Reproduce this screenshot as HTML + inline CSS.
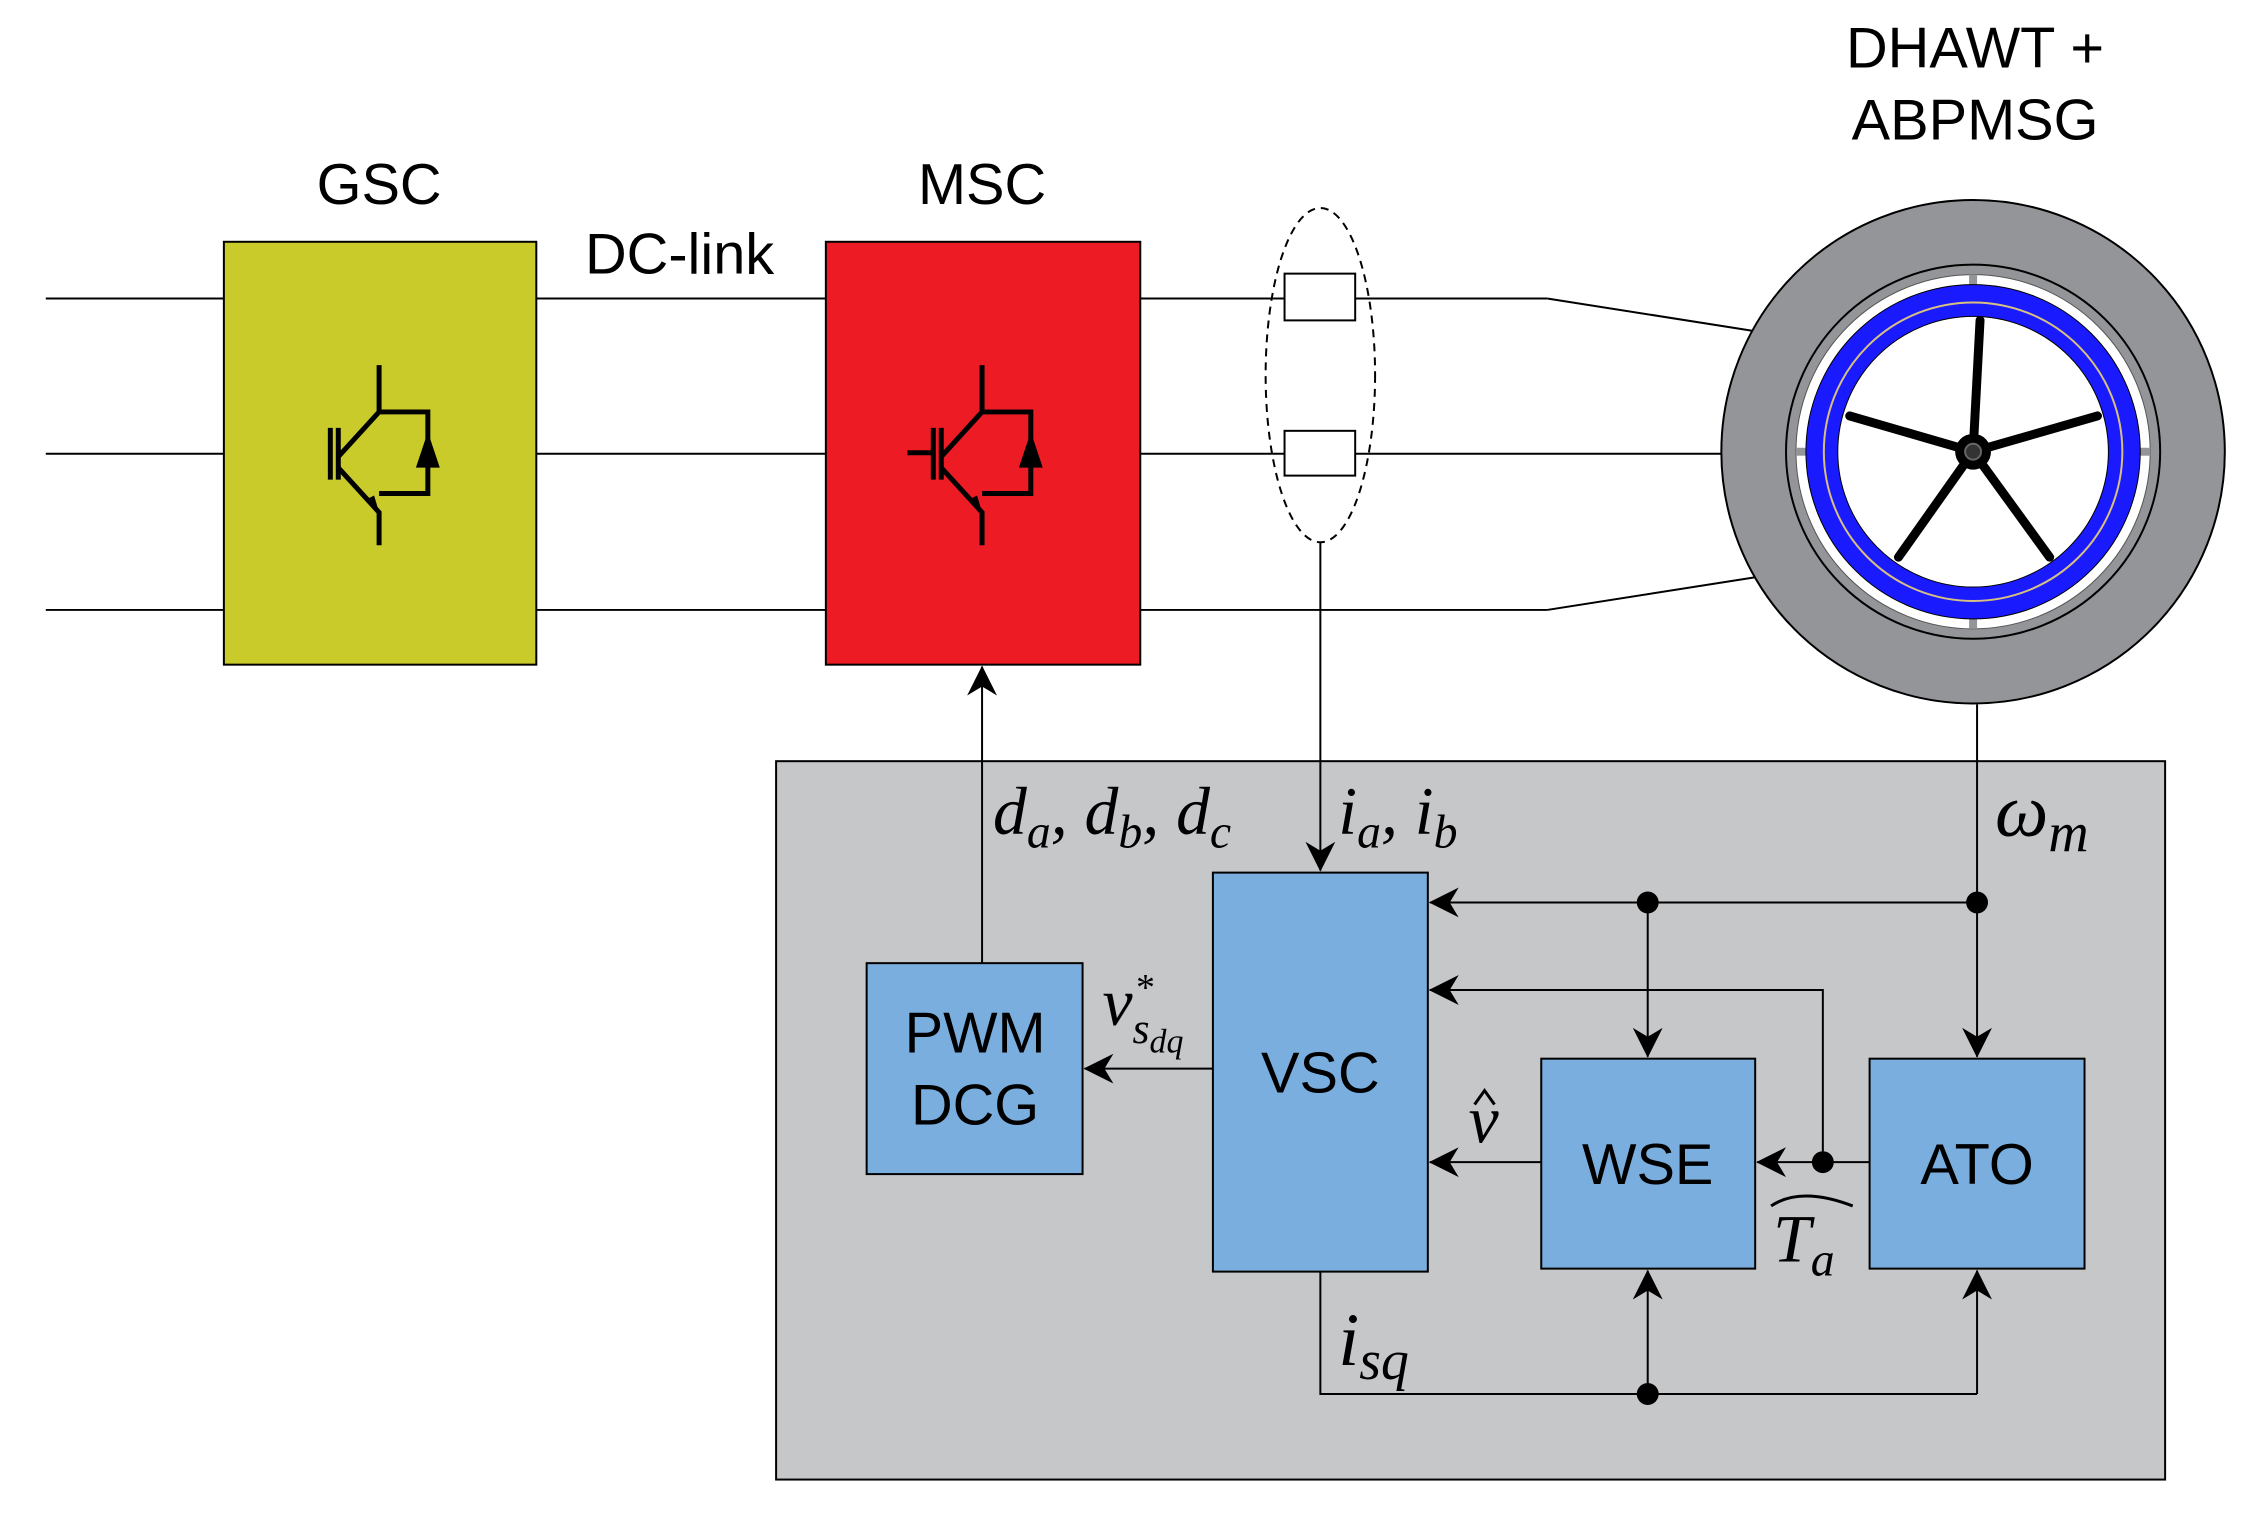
<!DOCTYPE html>
<html><head><meta charset="utf-8"><style>
html,body{margin:0;padding:0;background:#fff;}
svg{display:block;}
.l{font-family:"Liberation Sans",sans-serif;font-size:58px;fill:#000;}
.m{font-family:"Liberation Serif",serif;font-style:italic;font-size:68px;fill:#000;}
.s{font-size:48px;}
</style></head><body>
<svg width="2260" height="1528" viewBox="0 0 2260 1528" xmlns="http://www.w3.org/2000/svg">
<defs>
<marker id="a" viewBox="0 0 30 30" refX="29" refY="15" markerWidth="30" markerHeight="30" markerUnits="userSpaceOnUse" orient="auto"><path d="M0,0 L30,15 L0,30 L9,15 Z" fill="#000"/></marker>
</defs>
<rect width="2260" height="1528" fill="#fff"/>
<g transform="scale(0.995)">
<g stroke="#000" stroke-width="2" fill="none">
<line x1="46" y1="300" x2="1555" y2="300"/>
<line x1="46" y1="456" x2="1734" y2="456"/>
<line x1="46" y1="613" x2="1555" y2="613"/>
<line x1="1555" y1="300" x2="1765" y2="333"/>
<line x1="1555" y1="613" x2="1765" y2="580"/>
</g>
<rect x="225" y="243" width="314" height="425" fill="#c9cb2b" stroke="#000" stroke-width="2"/>
<rect x="830" y="243" width="316" height="425" fill="#ed1c24" stroke="#000" stroke-width="2"/>
<text class="l" x="381" y="205" text-anchor="middle">GSC</text>
<text class="l" x="987" y="205" text-anchor="middle">MSC</text>
<text class="l" x="683" y="275" text-anchor="middle">DC-link</text>
<g stroke="#000" stroke-width="5" fill="none">
<path d="M381,367 V414 L340,459 M340,470 L381,515 V548 M381,414 H430 V496 H381"/>
<line x1="332" y1="430" x2="332" y2="482"/>
<line x1="340" y1="430" x2="340" y2="482"/>
<path d="M987,367 V414 L946,459 M946,470 L987,515 V548 M987,414 H1036 V496 H987"/>
<line x1="938" y1="430" x2="938" y2="482"/>
<line x1="946" y1="430" x2="946" y2="482"/>
<line x1="912" y1="455" x2="938" y2="455"/>
</g>
<path d="M430,434 L418,470 L442,470 Z" fill="#000"/>
<path d="M1036,434 L1024,470 L1048,470 Z" fill="#000"/>
<path d="M381,515 L368,502 L376,498 Z" fill="#000"/>
<path d="M987,515 L974,502 L982,498 Z" fill="#000"/>
<ellipse cx="1327" cy="377" rx="55" ry="168" fill="none" stroke="#000" stroke-width="2" stroke-dasharray="8,6"/>
<rect x="1291" y="275" width="71" height="47" fill="#fff" stroke="#000" stroke-width="2"/>
<rect x="1291" y="433" width="71" height="45" fill="#fff" stroke="#000" stroke-width="2"/>
<circle cx="1983" cy="454" r="253" fill="#939598" stroke="#000" stroke-width="2"/>
<circle cx="1983" cy="454" r="188" fill="#939598" stroke="#000" stroke-width="2"/>
<circle cx="1983" cy="454" r="178" fill="#fff" stroke="#555" stroke-width="1"/>
<g stroke="#939598" stroke-width="8"><line x1="1983" y1="276" x2="1983" y2="290"/><line x1="1983" y1="618" x2="1983" y2="632"/><line x1="1805" y1="454" x2="1819" y2="454"/><line x1="2147" y1="454" x2="2161" y2="454"/></g>
<circle cx="1983" cy="454" r="168" fill="#1a1aff" stroke="#000" stroke-width="1"/>
<circle cx="1983" cy="454" r="150" fill="none" stroke="#d8c080" stroke-width="2"/>
<circle cx="1983" cy="454" r="136" fill="#fff" stroke="#000" stroke-width="1"/>
<g stroke="#000" stroke-width="9" stroke-linecap="round">
<line x1="1983" y1="454" x2="1990" y2="322"/>
<line x1="1983" y1="454" x2="1859" y2="418"/>
<line x1="1983" y1="454" x2="2108" y2="418"/>
<line x1="1983" y1="454" x2="1908" y2="560"/>
<line x1="1983" y1="454" x2="2060" y2="560"/>
</g>
<circle cx="1983" cy="454" r="18" fill="#000"/>
<circle cx="1983" cy="454" r="8" fill="#333" stroke="#666" stroke-width="2"/>
<text class="l" x="1985" y="68" text-anchor="middle">DHAWT +</text>
<text class="l" x="1985" y="140" text-anchor="middle">ABPMSG</text>
<rect x="780" y="765" width="1396" height="722" fill="#c6c7c9" stroke="#000" stroke-width="2"/>
<g stroke="#000" stroke-width="2" fill="none">
<line x1="987" y1="968" x2="987" y2="670" marker-end="url(#a)"/>
<line x1="1327" y1="545" x2="1327" y2="875" marker-end="url(#a)"/>
<line x1="1987" y1="708" x2="1987" y2="1062" marker-end="url(#a)"/>
<line x1="1987" y1="907" x2="1437" y2="907" marker-end="url(#a)"/>
<line x1="1656" y1="907" x2="1656" y2="1062" marker-end="url(#a)"/>
<polyline points="1832,1168 1832,995 1437,995" marker-end="url(#a)"/>
<line x1="1879" y1="1168" x2="1766" y2="1168" marker-end="url(#a)"/>
<line x1="1549" y1="1168" x2="1437" y2="1168" marker-end="url(#a)"/>
<line x1="1219" y1="1074" x2="1090" y2="1074" marker-end="url(#a)"/>
<polyline points="1327,1278 1327,1401 1987,1401"/>
<line x1="1656" y1="1401" x2="1656" y2="1277" marker-end="url(#a)"/>
<line x1="1987" y1="1401" x2="1987" y2="1277" marker-end="url(#a)"/>
</g>
<g fill="#000"><circle cx="1656" cy="907" r="11"/><circle cx="1987" cy="907" r="11"/><circle cx="1832" cy="1168" r="11"/><circle cx="1656" cy="1401" r="11"/></g>
<g fill="#7aaedf" stroke="#000" stroke-width="2">
<rect x="871" y="968" width="217" height="212"/>
<rect x="1219" y="877" width="216" height="401"/>
<rect x="1549" y="1064" width="215" height="211"/>
<rect x="1879" y="1064" width="216" height="211"/>
</g>
<text class="l" x="980" y="1058" text-anchor="middle">PWM</text>
<text class="l" x="980" y="1130" text-anchor="middle">DCG</text>
<text class="l" x="1327" y="1098" text-anchor="middle">VSC</text>
<text class="l" x="1656" y="1190" text-anchor="middle">WSE</text>
<text class="l" x="1987" y="1190" text-anchor="middle">ATO</text>
<text class="m" x="998" y="838">d<tspan class="s" dy="14">a</tspan><tspan dy="-14">, d</tspan><tspan class="s" dy="14">b</tspan><tspan dy="-14">, d</tspan><tspan class="s" dy="14">c</tspan></text>
<text class="m" x="1345" y="838">i<tspan class="s" dy="14">a</tspan><tspan dy="-14">, i</tspan><tspan class="s" dy="14">b</tspan></text>
<text class="m" style="font-size:76px" x="2005" y="840">ω<tspan class="s" style="font-size:56px" dy="16">m</tspan></text>
<text class="m" x="1108" y="1030">v<tspan class="s" style="font-size:44px" dy="18">s</tspan><tspan style="font-size:34px" dy="10">dq</tspan></text>
<text class="m" style="font-size:38px" x="1140" y="1005">*</text>
<text class="m" x="1476" y="1148">v</text>
<path d="M1482,1110 L1492,1096 L1502,1110" stroke="#000" stroke-width="3" fill="none"/>
<text class="m" x="1782" y="1268">T<tspan class="s" dy="14">a</tspan></text>
<path d="M1780,1212 Q1810,1192 1862,1212" stroke="#000" stroke-width="3" fill="none"/>
<text class="m" style="font-size:76px" x="1345" y="1372">i<tspan class="s" style="font-size:56px" dy="14">sq</tspan></text>
</g>
</svg>
</body></html>
